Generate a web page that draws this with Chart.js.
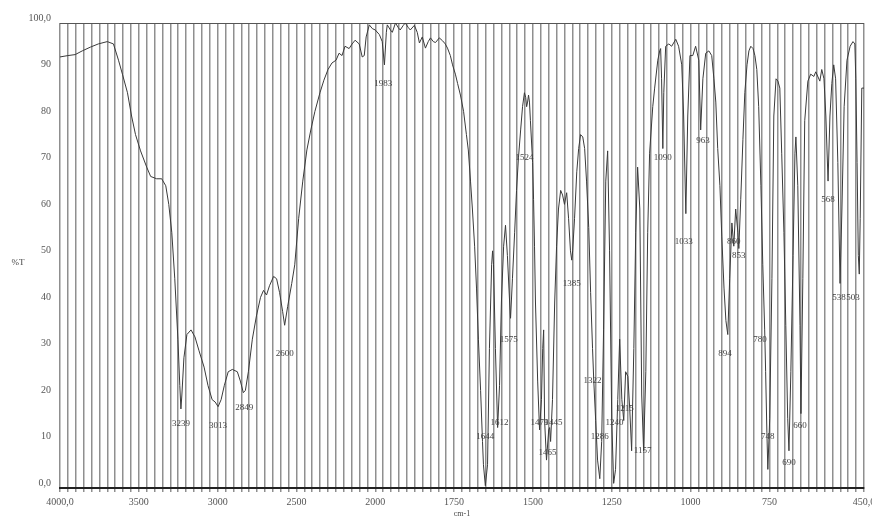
<!DOCTYPE html>
<html>
<head>
<meta charset="utf-8">
<script src="https://cdn.jsdelivr.net/npm/chart.js@4.4.0/dist/chart.umd.min.js"></script>
<style>
    html, body { margin: 0; padding: 0; background: #fff; }
    .chart { width: 872px; height: 519px; }
</style>
</head>
<body>
<div class="chart"><canvas id="chart"></canvas></div>
<script>
const wavenumbers = [
    4000, 3949, 3904, 3859, 3808, 3757, 3700, 3661, 3629, 3604, 3572, 3546, 3521, 3489, 3450, 3425,
    3387, 3355, 3329, 3310, 3291, 3272, 3252, 3240, 3233, 3227, 3214, 3195, 3169, 3144, 3118, 3086,
    3061, 3035, 3016, 2997, 2978, 2958, 2933, 2907, 2875, 2856, 2837, 2824, 2805, 2780, 2754, 2728,
    2709, 2690, 2671, 2645, 2626, 2607, 2588, 2575, 2556, 2530, 2511, 2486, 2460, 2434, 2409, 2383,
    2351, 2326, 2300, 2275, 2249, 2230, 2211, 2192, 2166, 2147, 2128, 2102, 2083, 2070, 2058, 2038,
    2019, 2000, 1987, 1978, 1971, 1965, 1962, 1952, 1946, 1936, 1927, 1921, 1911, 1905, 1895, 1889,
    1876, 1867, 1860, 1851, 1841, 1832, 1825, 1816, 1809, 1797, 1787, 1778, 1771, 1762, 1755, 1746,
    1739, 1730, 1720, 1711, 1705, 1698, 1692, 1685, 1679, 1673, 1666, 1660, 1657, 1651, 1644, 1638,
    1631, 1628, 1625, 1619, 1612, 1606, 1600, 1593, 1587, 1581, 1574, 1571, 1565, 1558, 1552, 1546,
    1539, 1533, 1527, 1523, 1520, 1517, 1514, 1511, 1508, 1501, 1498, 1495, 1492, 1485, 1479, 1473,
    1469, 1466, 1463, 1457, 1450, 1447, 1444, 1438, 1431, 1425, 1419, 1412, 1406, 1400, 1393, 1387,
    1381, 1377, 1374, 1368, 1361, 1355, 1349, 1342, 1336, 1330, 1323, 1317, 1311, 1307, 1301, 1295,
    1288, 1282, 1276, 1269, 1263, 1257, 1250, 1244, 1238, 1231, 1225, 1218, 1212, 1206, 1199, 1193,
    1187, 1180, 1174, 1168, 1161, 1155, 1149, 1142, 1136, 1130, 1120, 1114, 1104, 1098, 1095, 1092,
    1088, 1085, 1079, 1069, 1060, 1047, 1038, 1028, 1022, 1015, 1009, 1002, 993, 984, 974, 968,
    961, 952, 942, 933, 926, 920, 914, 907, 901, 894, 888, 882, 876, 869, 863, 857,
    850, 847, 841, 834, 828, 821, 815, 809, 802, 796, 790, 784, 777, 771, 765, 762,
    758, 755, 749, 742, 736, 729, 723, 717, 711, 704, 698, 692, 688, 682, 675, 669,
    666, 660, 653, 650, 644, 638, 628, 619, 609, 603, 590, 584, 577, 571, 564, 558,
    552, 546, 540, 533, 526, 520, 513, 504, 494, 485, 479, 476, 472, 468, 465, 462, 457, 450
];
const transmittance = [
    92.7, 93, 93.2, 94, 94.8, 95.5, 96, 95.5, 92, 89, 85, 80, 76, 72.5, 69, 67,
    66.5, 66.5, 65, 61, 55, 45, 32, 22, 17, 20, 28, 33, 34, 32.5, 29.5, 26,
    22, 19, 18.5, 17.5, 19, 22, 25, 25.5, 25, 23, 20.5, 21, 25, 32, 37, 41,
    42.5, 41.5, 43.5, 45.5, 45, 42, 38, 35, 39, 44, 48, 58, 66, 72.7, 77, 81,
    85, 87.7, 90, 91.4, 92, 93.5, 93, 95, 94.5, 95.5, 96.3, 95.5, 92.7, 93, 97, 99.6,
    98.8, 98.5, 97.5, 96, 91, 98, 99.6, 98.5, 98, 100, 99, 98.5, 99.5, 100, 99, 98.5,
    99.5, 98, 95.7, 97, 94.6, 96, 96.8, 96, 95.8, 96.8, 96.2, 95.5, 94.6, 93, 91, 89,
    87, 84.5, 81, 76, 72.7, 66, 60, 52, 43, 32, 21, 10, 5, 0.5, 5, 30,
    48, 51, 48, 30, 13, 22, 40, 52, 56.5, 50, 40, 36.5, 45, 55, 64, 71,
    77, 82, 85, 84, 82, 83, 84.5, 83, 79, 70, 62, 52, 40, 23, 12.5, 19,
    30, 34, 14.5, 6, 12.5, 13, 10, 19, 40, 52, 60, 64, 63, 61, 63.5, 58,
    51, 49, 51, 58, 68, 73, 76, 75.5, 73, 66, 56, 42, 30, 23, 14.5, 6,
    2, 10, 34, 66, 72.5, 51, 14.5, 1, 4, 19, 32, 19, 14.5, 25, 24, 17,
    8, 30, 55, 69, 60, 20, 8, 25, 55, 72, 82, 86, 92, 94, 94.5, 88,
    73, 85, 95, 95.5, 95, 96.5, 95, 91, 80, 59, 80, 93, 93, 95, 92, 77,
    88, 93.5, 94, 93, 88, 83, 73, 65, 54, 43, 36, 33, 45, 57, 52, 60,
    55, 51.5, 62, 75, 85, 91, 94, 95, 94.5, 93, 90, 82, 65, 48, 34, 25,
    12, 4, 15, 45, 80, 88, 87.5, 86, 72, 55, 35, 15, 8, 25, 50, 72,
    75.5, 65, 35, 16, 45, 79, 87.5, 89, 88.5, 89.5, 87.5, 90, 88, 80, 66, 80,
    87, 91, 88, 70, 44, 60, 82, 92, 95, 96, 95.5, 88, 70, 50, 46, 58, 86, 86
];

const xTickValues = [4000, 3500, 3000, 2500, 2000, 1750, 1500, 1250, 1000, 750, 450];
const xTickLabels = ['4000,0', '3500', '3000', '2500', '2000', '1750', '1500', '1250', '1000', '750', '450,0'];
const yTickValues = [0, 10, 20, 30, 40, 50, 60, 70, 80, 90, 100];
const yTickLabels = ['0,0', '10', '20', '30', '40', '50', '60', '70', '80', '90', '100,0'];

const peakLabels = ['3239', '3013', '2849', '2600', '1983', '1644', '1612', '1575', '1524', '1479', '1465',
    '1445', '1385', '1322', '1286', '1240', '1215', '1157', '1090', '1033', '963', '894', '860', '853',
    '780', '748', '690', '660', '568', '538', '503'];
const peakWavenumbers = [3233, 2997, 2831, 2575, 1975, 1651, 1606, 1577, 1527, 1479, 1454,
    1435, 1377, 1311, 1288, 1241, 1209, 1152, 1088, 1022, 961, 891, 863, 847,
    780, 755, 688, 653, 564, 529, 485];
const peakLabelLevels = [13.8, 13.5, 17.2, 29, 87, 11, 14, 32, 71, 14, 7.5,
    14, 44, 23, 11, 14, 17, 8, 71, 53, 74.6, 29, 53, 50,
    32, 11, 5.4, 13.5, 62, 41, 41];

// IR axis: 4000-2000 at half the density of 2000-450
class IrScale extends Chart.LinearScale {
    buildTicks() {
        const ticks = [];
        for (let v = this.min; v <= this.max; v += v < 2000 ? 25 : 50) {
            ticks.push({ value: v });
        }
        this.start = this.min;
        this.end = this.max;
        return ticks;
    }

    toDecimal(v) {
        return v >= 2000 ? (4000 - v) / 5100 : (2000 + 2 * (2000 - v)) / 5100;
    }

    getPixelForValue(v) {
        return this.getPixelForDecimal(this.toDecimal(v));
    }

    getValueForPixel(px) {
        const u = this.getDecimalForPixel(px) * 5100;
        return u <= 2000 ? 4000 - u : 2000 - (u - 2000) / 2;
    }
}
IrScale.id = 'ir';
IrScale.defaults = Chart.LinearScale.defaults;
Chart.register(IrScale);

const tickFont = { family: 'Liberation Serif', size: 10 };

const annotate = {
    id: 'annotate',
    afterDatasetsDraw(chart) {
        const { ctx, chartArea, scales: { x, y } } = chart;
        ctx.save();
        ctx.fillStyle = '#444';
        ctx.textAlign = 'center';
        ctx.textBaseline = 'middle';
        ctx.font = '9px "Liberation Serif"';
        peakLabels.forEach((text, i) => {
            ctx.fillText(text, x.getPixelForValue(peakWavenumbers[i]), y.getPixelForValue(peakLabelLevels[i]));
        });
        ctx.fillText('%T', 18, (chartArea.top + chartArea.bottom) / 2 + 7);
        ctx.font = '8px "Liberation Serif"';
        ctx.fillText('cm-1', (chartArea.left + chartArea.right) / 2, 514);
        ctx.restore();
    },
};

new Chart(document.getElementById('chart'), {
    type: 'line',
    data: {
        datasets: [{
            data: wavenumbers.map((w, i) => ({ x: w, y: transmittance[i] })),
            borderColor: '#3a3a3a',
            borderWidth: 1,
            pointRadius: 0,
            tension: 0,
            fill: false,
        }],
    },
    options: {
        responsive: true,
        maintainAspectRatio: false,
        animation: false,
        layout: { padding: { left: 0, right: 8, top: 23, bottom: 0 } },
        plugins: {
            legend: { display: false },
            tooltip: { enabled: false },
        },
        scales: {
            x: {
                type: 'ir',
                min: 450,
                max: 4000,
                grid: {
                    color: '#8f8f8f',
                    lineWidth: 1.5,
                    tickLength: 4,
                },
                border: { color: '#222', width: 2 },
                ticks: {
                    autoSkip: false,
                    maxRotation: 0,
                    minRotation: 0,
                    padding: 4,
                    color: '#555',
                    font: tickFont,
                    callback: (value) => {
                        const i = xTickValues.indexOf(value);
                        return i >= 0 ? xTickLabels[i] : '';
                    },
                },
                afterFit: (scale) => {
                    scale.height = 31;
                    scale.paddingLeft = 0;
                    scale.paddingRight = 0;
                },
            },
            y: {
                min: 0,
                max: 100,
                grid: {
                    drawTicks: false,
                    color: (ctx) => (ctx.tick && ctx.tick.value === 100 ? '#555' : 'rgba(0,0,0,0)'),
                    lineWidth: 1,
                },
                border: { display: false },
                ticks: {
                    stepSize: 10,
                    padding: 9,
                    labelOffset: -5,
                    color: '#555',
                    font: tickFont,
                    callback: (value) => {
                        const i = yTickValues.indexOf(value);
                        return i >= 0 ? yTickLabels[i] : '';
                    },
                },
                afterFit: (scale) => {
                    scale.width = 60;
                    scale.paddingTop = 0;
                    scale.paddingBottom = 0;
                },
            },
        },
    },
    plugins: [annotate],
});
</script>
</body>
</html>
